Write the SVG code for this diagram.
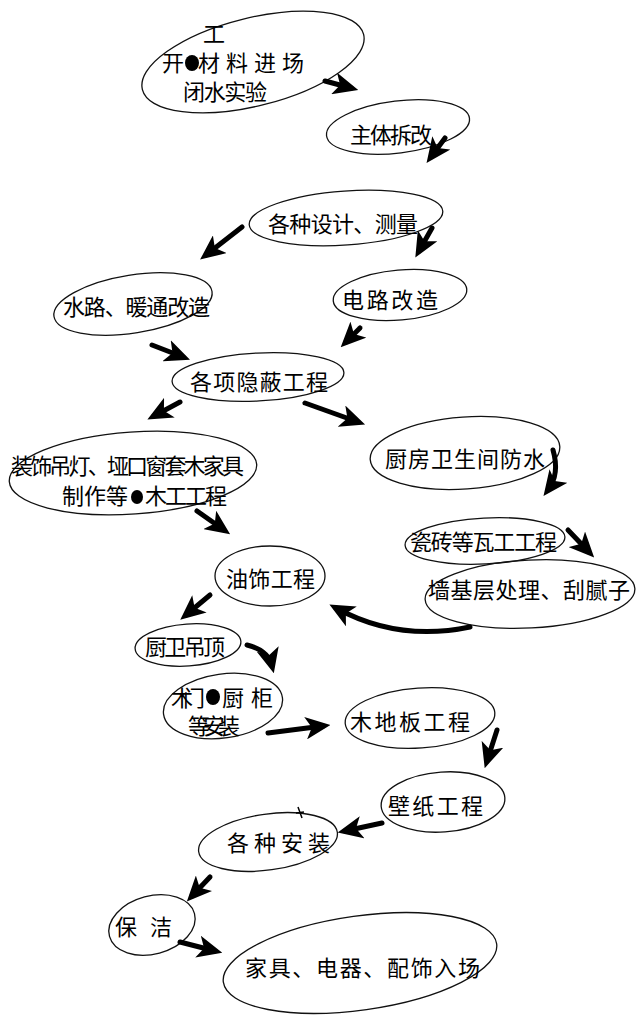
<svg xmlns="http://www.w3.org/2000/svg" width="637" height="1018" viewBox="0 0 637 1018">
<defs>
<marker id="ah" viewBox="0 0 10 9" refX="7" refY="4.5" markerWidth="5" markerHeight="4.5" orient="auto" markerUnits="strokeWidth">
<path d="M0,0 L10,4.5 L0,9 L2.5,4.5 z" fill="#000"/>
</marker>
<style>
.n ellipse{fill:none;stroke:#111;stroke-width:1.3}
.n ellipse.blot{fill:#000;stroke:none}
text{font-family:"Noto Sans CJK SC","Noto Sans",sans-serif;fill:#000;font-size:22px}
.c path{fill:none;stroke:#000;stroke-width:5;stroke-linecap:round;marker-end:url(#ah)}
</style>
</defs>
<rect width="637" height="1018" fill="#fff"/>

<g id="n1" class="n">
<ellipse cx="253" cy="62" rx="114" ry="44" transform="rotate(-14 253 62)"/>
<text x="203" y="42" font-size="13">工</text>
<text x="162" y="71" font-size="22">开</text>
<ellipse class="blot" cx="192" cy="63" rx="7" ry="8"/>
<text x="198" y="71" font-size="22" textLength="106" lengthAdjust="spacing">材料进场</text>
<text x="183" y="100" font-size="19" textLength="84" lengthAdjust="spacing">闭水实验</text>
</g>

<g id="n2" class="n">
<ellipse cx="398" cy="127" rx="72" ry="26" transform="rotate(-7 398 127)"/>
<text x="350" y="143" font-size="21" textLength="82" lengthAdjust="spacing">主体拆改</text>
</g>

<g id="n3" class="n">
<ellipse cx="346" cy="218" rx="97" ry="27" transform="rotate(-4 346 218)"/>
<text x="268" y="232" font-size="21" textLength="150" lengthAdjust="spacing">各种设计、测量</text>
</g>

<g id="n4" class="n">
<ellipse cx="133" cy="304" rx="80" ry="29" transform="rotate(-9 133 304)"/>
<text x="63" y="315" font-size="21" textLength="147" lengthAdjust="spacing">水路、暖通改造</text>
</g>

<g id="n5" class="n">
<ellipse cx="400" cy="295" rx="67" ry="25" transform="rotate(-5 400 295)"/>
<text x="342" y="308" font-size="23" textLength="96" lengthAdjust="spacing">电路改造</text>
</g>

<g id="n6" class="n">
<ellipse cx="258" cy="377" rx="86" ry="24" transform="rotate(-3 258 377)"/>
<text x="190" y="390" font-size="22" textLength="138" lengthAdjust="spacing">各项隐蔽工程</text>
</g>

<g id="n7" class="n">
<ellipse cx="133" cy="473" rx="124" ry="41" transform="rotate(-4 133 473)"/>
<text x="11" y="474" font-size="18" textLength="233" lengthAdjust="spacing">装饰吊灯、垭口窗套木家具</text>
<text x="62" y="504" font-size="19" textLength="66" lengthAdjust="spacing">制作等</text>
<ellipse class="blot" cx="137" cy="497" rx="6" ry="7"/>
<text x="145" y="504" font-size="19" textLength="82" lengthAdjust="spacing">木工工程</text>
</g>

<g id="n8" class="n">
<ellipse cx="465" cy="453" rx="95" ry="36" transform="rotate(-4 465 453)"/>
<text x="385" y="467" font-size="21" textLength="160" lengthAdjust="spacing">厨房卫生间防水</text>
</g>

<g id="n9" class="n">
<ellipse cx="485" cy="541" rx="80" ry="23" transform="rotate(-3 485 541)"/>
<text x="410" y="550" font-size="21" textLength="147" lengthAdjust="spacing">瓷砖等瓦工工程</text>
</g>

<g id="n10" class="n">
<ellipse cx="530" cy="594" rx="105" ry="34" transform="rotate(-3 530 594)"/>
<text x="428" y="598" font-size="21" textLength="202" lengthAdjust="spacing">墙基层处理、刮腻子</text>
</g>

<g id="n11" class="n">
<ellipse cx="270" cy="576" rx="55" ry="30"/>
<text x="226" y="587" font-size="21" textLength="89" lengthAdjust="spacing">油饰工程</text>
</g>

<g id="n12" class="n">
<ellipse cx="188" cy="645" rx="53" ry="21" transform="rotate(-4 188 645)"/>
<text x="145" y="655" font-size="20" textLength="80" lengthAdjust="spacing">厨卫吊顶</text>
</g>

<g id="n13" class="n">
<ellipse cx="223" cy="706" rx="60" ry="32" transform="rotate(-8 223 706)"/>
<text x="171" y="706" font-size="19" textLength="34" lengthAdjust="spacing">木门</text>
<ellipse class="blot" cx="213" cy="697" rx="7" ry="8"/>
<text x="222" y="706" font-size="19" textLength="51" lengthAdjust="spacing">厨柜</text>
<text x="188" y="734" font-size="18" textLength="52" lengthAdjust="spacing">等安装</text>
</g>

<g id="n14" class="n">
<ellipse cx="420" cy="718" rx="75" ry="30" transform="rotate(-4 420 718)"/>
<text x="350" y="730" font-size="23" textLength="120" lengthAdjust="spacing">木地板工程</text>
</g>

<g id="n15" class="n">
<ellipse cx="443" cy="802" rx="62" ry="30" transform="rotate(-4 443 802)"/>
<text x="388" y="814" font-size="23" textLength="95" lengthAdjust="spacing">壁纸工程</text>
</g>

<g id="n16" class="n">
<ellipse cx="268" cy="842" rx="70" ry="28" transform="rotate(-8 268 842)"/>
<path d="M298,807 L302,818 M296,813 L304,812" stroke="#000" stroke-width="1.5" fill="none"/>
<text x="227" y="851" font-size="22" textLength="103" lengthAdjust="spacing">各种安装</text>
</g>

<g id="n17" class="n">
<ellipse cx="152" cy="925" rx="44" ry="29" transform="rotate(-15 152 925)"/>
<text x="115" y="935" font-size="25" textLength="57" lengthAdjust="spacing">保洁</text>
</g>

<g id="n18" class="n">
<ellipse cx="360" cy="963" rx="138" ry="47" transform="rotate(-8 360 963)"/>
<text x="245" y="976" font-size="23" textLength="235" lengthAdjust="spacing">家具、电器、配饰入场</text>
</g>

<g id="connectors" class="c">
<path d="M325,81 L351,88"/>
<path d="M445,138 L431,157"/>
<path d="M242,227 L206,255"/>
<path d="M432,228 L419,251"/>
<path d="M152,345 L183,357"/>
<path d="M360,328 L346,342"/>
<path d="M180,402 L154,416"/>
<path d="M305,403 L358,422"/>
<path d="M553,450 Q560,474 548,490"/>
<path d="M568,530 L589,552"/>
<path d="M470,627 Q398,642 336,608"/>
<path d="M197,511 L224,530"/>
<path d="M210,595 L186,615"/>
<path d="M247,645 Q268,650 272,666"/>
<path d="M268,733 L323,726"/>
<path d="M497,730 L487,761"/>
<path d="M382,823 L345,831"/>
<path d="M210,877 L192,896"/>
<path d="M180,942 L215,951"/>
</g>
</svg>
